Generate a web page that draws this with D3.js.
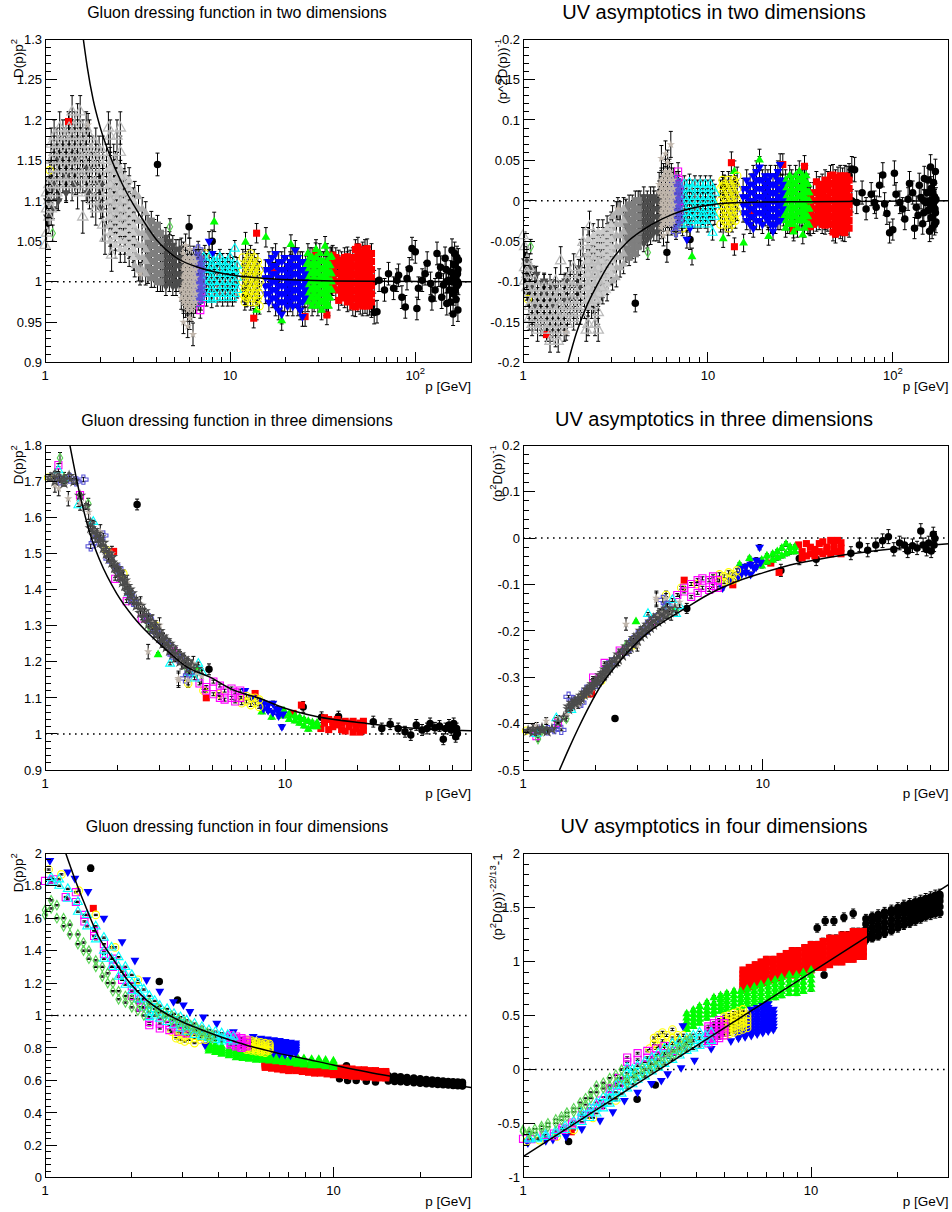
<!DOCTYPE html>
<html>
<head>
<meta charset="utf-8">
<title>Gluon dressing function and UV asymptotics</title>
<script src="https://cdn.jsdelivr.net/npm/d3@7/dist/d3.min.js"></script>
<style>
  html, body { margin: 0; padding: 0; background: #fff; }
  svg { display: block; }
  text { font-family: "Liberation Sans", Arial, Helvetica, sans-serif; fill: #000; }
</style>
</head>
<body>
<svg id="fig" width="952" height="1212" viewBox="0 0 952 1212"></svg>
<script>
// ================= Lattice data: D(p) p^2 against p [GeV] =================
// Each row is [p, value, value, ...]; several lattice points share one momentum.

// ---------- two dimensions ----------
const d2Black = [[4.05,1.145],[6.0,1.068],[8.0,1.05],[12.2,0.983],
  [58,0.97],[60,0.962,1.0],[62.1,0.963],[63.8,1.002],[68.2,0.99],[71.7,1.01],[76.4,0.992],[79.6,1.002],
  [81.3,1.008],[84.7,0.981],[88.3,0.969],[90.2,1.004],[92.9,1.016],[96,1.041],[100,1.037],[102,0.967],
  [104,0.992],[109,1.002],[113,1.01],[116,1.023],[121,0.998],[123,0.979],[128,0.99],[131,1.035],
  [134,1.008],[137,1.018],[139,0.981],[142,0.996],[145,1.029],[147,1.0,1.015],[148,0.973],[151,1.002],
  [153,0.99],[155,1.012,0.975],[158,1.039,1.0],[160,1.005,0.96],[161,1.021,0.985],[163,1.035],
  [164,0.99,1.01],[166,1.006,0.978],[168,1.03,0.995],[169,1.0,1.01],[170,0.965,1.015],[171,0.998,1.027]];
const d2Red = [[1.34,1.198],[13.4,0.955],[13.9,1.06],[17.1,1.012],[25.4,0.957],[29.0,1.036],[33.3,0.959],
  [35.8,0.995,1.005,1.015,1.025,1.033],[37.2,0.99,1.0,1.01,1.02,1.03],[38.6,0.977,0.99,1.0,1.01,1.02,1.027],
  [40.0,0.983,0.995,1.005,1.015,1.025],[41.5,0.98,0.99,1.0,1.01,1.02,1.03],
  [43.0,0.975,0.985,0.995,1.005,1.015,1.025,1.031],[44.5,0.977,0.987,0.997,1.007,1.017,1.027],
  [46.0,0.97,0.98,0.99,1.0,1.01,1.02,1.03],[47.5,0.969,0.979,0.989,0.999,1.009,1.019,1.029,1.04],
  [49.0,0.975,0.985,0.995,1.005,1.015,1.025,1.035,1.043],[50.5,0.972,0.982,0.992,1.002,1.012,1.022,1.032],
  [52.0,0.97,0.98,0.99,1.0,1.01,1.02,1.03,1.037],[53.5,0.973,0.983,0.993,1.003,1.013,1.023,1.033,1.04],
  [55.0,0.97,0.98,0.99,1.0,1.01,1.02,1.03,1.041],[56.5,0.971,0.981,0.991,1.001,1.011,1.021,1.031],
  [58.0,0.975,0.985,0.995,1.005,1.015,1.025,1.035]];
const d2Green = [[8.2,1.074],[12.1,1.049],[13.9,0.965],[15.6,1.055],[19.0,0.952],[21.3,1.046],
  [25.6,0.99,1.0,1.01,1.02],[26.3,0.975,0.985,0.995,1.005,1.015,1.025,1.035],[27.0,0.98,0.99,1.0,1.01,1.02,1.03],
  [27.7,0.97,0.98,0.99,1.0,1.01,1.02,1.03],[28.4,0.975,0.985,0.995,1.005,1.015,1.025],
  [29.1,0.98,0.99,1.0,1.01,1.02,1.03,1.04],[29.8,0.97,0.98,0.99,1.0,1.01,1.02],
  [30.5,0.975,0.985,0.995,1.005,1.015,1.025,1.035],[31.2,0.965,0.975,0.985,0.995,1.005,1.015,1.025],
  [31.9,0.975,0.985,0.995,1.005,1.015,1.025],[32.6,0.97,0.98,0.99,1.0,1.01,1.02,1.044],
  [33.3,0.975,0.985,0.995,1.005,1.015,1.025,1.035],[34.0,0.97,0.98,0.99,1.0,1.01,1.02],
  [34.7,0.98,0.99,1.0,1.01,1.02,1.03],[35.3,0.99,1.0,1.01,1.031]];
const d2Blue = [[7.7,1.05],[8.0,1.035],
  [15.5,0.985,0.995,1.005,1.015],[16.2,0.975,0.985,0.995,1.005,1.015,1.025],[16.9,0.98,0.99,1.0,1.01,1.02,1.03],
  [17.6,0.97,0.98,0.99,1.0,1.01,1.02,1.035],[18.3,0.965,0.975,0.985,0.995,1.005,1.015,1.025],
  [19.0,0.96,0.975,0.985,0.995,1.005,1.015,1.025],[19.7,0.975,0.985,0.995,1.005,1.015,1.03],
  [20.4,0.97,0.98,0.99,1.0,1.01,1.02],[21.1,0.975,0.985,0.995,1.005,1.015,1.025],
  [21.8,0.97,0.98,0.99,1.0,1.01,1.02,1.03],[22.5,0.98,0.99,1.0,1.01,1.02,1.03,1.039],
  [23.2,0.97,0.98,0.99,1.0,1.01,1.02,1.03],[23.9,0.965,0.975,0.985,0.995,1.005,1.015,1.025],
  [24.6,0.957,0.975,0.985,0.995,1.005,1.015,1.025],[25.3,0.98,0.99,1.0,1.01]];
const d2Yellow = [[1.06,1.138],[7.3,1.035],[11.7,0.985,1.0,1.015,1.03],[12.0,0.975,0.982,0.99,1.005,1.02],
  [12.3,0.98,0.995,1.01,1.025],[12.6,0.985,1.0,1.015,1.03],[12.9,0.975,0.99,1.005,1.02,1.035],
  [13.2,0.98,0.995,1.01,1.025],[13.5,0.985,1.0,1.015,1.03],[13.8,0.975,0.99,1.005,1.02],
  [14.1,0.98,0.995,1.01,1.025],[14.4,0.97,0.985,1.0,1.015]];
const d2Magenta = [[6.8,0.99],[6.85,1.01],[6.9,0.98,0.965],[6.95,0.975],[7.0,1.0,0.985]];
const d2Cyan = [[7.2,0.985,1.0,1.015,1.03],[7.45,0.98,0.995,1.01,1.025],[7.7,0.985,1.0,1.015,1.03],
  [7.95,0.978,0.99,1.005,1.02],[8.2,0.985,1.0,1.015,1.025],[8.5,0.98,0.995,1.01,1.025],[8.8,0.985,1.0,1.015,1.03],
  [9.1,0.98,0.995,1.01,1.025],[9.4,0.985,1.0,1.015,1.02],[9.7,0.98,0.995,1.01,1.025],[10.0,0.985,1.0,1.015,1.03],
  [10.3,0.98,0.995,1.01,1.02],[10.6,0.985,1.0,1.015,1.041],[10.9,0.99,1.005,1.02]];
const d2Diamond = [[1.1,1.06],[4.73,1.068]];
const d2Cross = [[6.6,0.98,0.99,1.0,1.01,1.02,1.03],[6.72,0.975,0.985,0.995,1.005,1.015,1.025,1.04],
  [6.85,0.98,0.99,1.0,1.01,1.02,1.03],[6.97,0.985,0.995,1.005,1.015,1.025]];
const d2Tan = [[1.71,1.194],[3.26,1.01],
  [5.45,0.98,0.99,1.0,1.01,1.02,1.03,1.04],[5.6,0.95,0.975,0.985,0.995,1.005,1.015,1.025,1.035],
  [5.75,0.97,0.98,0.99,1.0,1.01,1.02,1.03,1.045],[5.9,0.945,0.965,0.975,0.985,0.995,1.005,1.015,1.025],
  [6.05,0.955,0.97,0.98,0.99,1.0,1.01,1.02,1.03,1.04],[6.2,0.965,0.975,0.985,0.995,1.005,1.015,1.025],
  [6.3,0.935],[6.35,0.97,0.98,0.99,1.0,1.01,1.02,1.03],[6.5,0.975,0.985,0.995,1.005,1.015,1.025]];
const d2Dark = [[1.03,1.1,1.08],[1.1,1.12,1.09],[1.18,1.15,1.1],[1.3,1.13,1.11],[1.45,1.15,1.12],[1.7,1.14,1.11],
  [2.0,1.12,1.09],[2.3,1.1,1.07],[2.7,1.07,1.05],[3.0,1.05,1.03],
  [4.3,1.0,1.01,1.02,1.03,1.04,1.05],[4.5,0.995,1.005,1.015,1.025,1.035,1.045,1.055],
  [4.7,1.0,1.01,1.02,1.03,1.04,1.05],[4.9,0.995,1.005,1.015,1.025,1.035,1.045],
  [5.1,0.995,1.0,1.01,1.02,1.03,1.04],[5.3,1.0,1.01,1.02,1.03,1.04]];
const d2Gray = [[3.6,1.01,1.02,1.03,1.04,1.05,1.06,1.07],[3.75,1.005,1.015,1.025,1.035,1.045,1.055,1.065,1.075],
  [3.9,1.005,1.015,1.025,1.035,1.045,1.055,1.065],[4.05,1.0,1.01,1.02,1.03,1.04,1.05,1.06,1.07],
  [4.2,1.0,1.01,1.02,1.03,1.04,1.05,1.06]];
const d2Silver = [[3.05,1.02,1.035,1.05,1.065,1.08,1.095,1.11],[3.2,1.015,1.03,1.045,1.06,1.075,1.09,1.105],
  [3.35,1.015,1.03,1.045,1.06,1.075,1.09],[3.5,1.01,1.025,1.04,1.055,1.07,1.085]];
const d2Pale = [[2.25,1.05,1.06,1.07,1.08,1.09,1.1,1.11,1.12,1.13,1.14,1.15],
  [2.4,1.045,1.055,1.065,1.075,1.085,1.095,1.105,1.115,1.125,1.135,1.145],
  [2.55,1.04,1.05,1.06,1.07,1.08,1.09,1.1,1.11,1.12,1.13,1.14],
  [2.7,1.04,1.05,1.06,1.07,1.08,1.09,1.1,1.11,1.12,1.13],
  [2.85,1.035,1.045,1.055,1.065,1.075,1.085,1.095,1.105,1.115,1.125],
  [3.0,1.03,1.04,1.05,1.06,1.07,1.08,1.09,1.1]];
const d2Light = [[1.0,1.045],[1.02,1.06,1.09,1.11],[1.05,1.08,1.12,1.1],[1.08,1.13,1.15,1.09,1.17],
  [1.12,1.12,1.16,1.18,1.14],[1.16,1.15,1.11,1.17,1.13],[1.2,1.19,1.14,1.16,1.12],[1.25,1.18,1.15,1.13,1.17],
  [1.3,1.16,1.14,1.12,1.18],[1.35,1.15,1.17,1.13,1.19],[1.4,1.21,1.16,1.14,1.18,1.12],[1.45,1.17,1.15,1.19,1.13],
  [1.5,1.2,1.16,1.14,1.18,1.11],[1.55,1.21,1.17,1.15,1.13],[1.6,1.18,1.15,1.08,1.13,1.16],
  [1.67,1.17,1.14,1.12,1.16,1.19],[1.74,1.15,1.18,1.13,1.11,1.16],[1.8,1.16,1.12,1.14,1.1],
  [1.88,1.17,1.14,1.12,1.09,1.15],[1.96,1.15,1.13,1.11,1.16],[2.05,1.14,1.12,1.1,1.07,1.16],[2.11,1.054],
  [2.15,1.13,1.11,1.09,1.15],[2.2,1.19],[2.25,1.12,1.14,1.1,1.08,1.18],[2.29,1.033],[2.35,1.13,1.11,1.09,1.15],
  [2.45,1.12,1.1,1.08,1.14,1.18],[2.55,1.11,1.09,1.13,1.16,1.19],[2.65,1.1,1.12,1.08]];
// half-widths of the error bars, one per series in drawing order
const err2D = [0.014, 0.012, 0.012, 0.012, 0.01, 0.01, 0.01, 0.01, 0.01, 0.014, 0.012, 0.012, 0.014, 0.016, 0.02];

// ---------- three dimensions ----------
const d3Black = [[2.42,1.636],[4.82,1.179],[11.9,1.075],[14.2,1.046],[16.7,1.048],[23.3,1.034],[25.3,1.015],
  [27.4,1.027],[29.6,1.015],[31.6,1.006],[33.4,0.997],[35.2,1.025],[37.2,1.011],[39,1.015],[40.2,1.029],
  [42.1,1.017],[44,1.022],[45.6,0.985],[46.6,1.015],[48.2,1.025],[49.2,1.011],[50.4,1.029],[51.4,0.992],
  [51.8,1.015],[52.2,1.001]];
const d3Red = [[1.93,1.506],[4.7,1.1],[7.5,1.112],[10.8,1.057],[11.7,1.08],[14.1,1.015],[14.6,1.045,1.03],
  [15.2,1.04,1.012],[15.8,1.035,1.02],[16.5,1.04,1.025],[17.2,1.03,1.012],[17.8,1.035,1.008],[18.5,1.03,1.02],
  [19.2,1.035,1.005],[19.8,1.025,1.015],[20.5,1.03,1.005],[21.2,1.035,1.01,1.022]];
const d3Green = [[1.21,1.703],[2.96,1.22],[4.3,1.18],[8.0,1.061],[8.8,1.046],[9.9,1.064,1.05],[10.4,1.055,1.04],
  [11,1.05,1.036],[11.5,1.045,1.03],[12,1.04,1.022],[12.5,1.035,1.013],[13,1.031,1.02],[13.6,1.03,1.02]];
const d3Blue = [[6.8,1.12],[7.3,1.1],[7.9,1.09],[8.12,1.085,1.07],[8.5,1.08,1.065],[8.9,1.085,1.06],[9.2,1.07],
  [9.4,1.066,1.05],[9.7,1.02],[9.8,1.055]];
const d3Yellow = [[1.03,1.71],[1.8,1.51],[2.12,1.445],[2.9,1.3],[3.95,1.14],[4.57,1.12],[5.3,1.11],
  [6.6,1.1,1.085],[6.9,1.105,1.09],[7.2,1.1,1.08],[7.5,1.1,1.085],[7.8,1.095,1.075]];
const d3Magenta = [[1.137,1.745],[1.399,1.662],[1.96,1.43],[2.19,1.368],[2.53,1.32],[3.42,1.228],[4.4,1.14],
  [4.7,1.12,1.13],[5.03,1.145,1.11],[5.35,1.134,1.1],[5.6,1.12,1.095],[5.98,1.126,1.1],[6.2,1.115,1.09],
  [6.5,1.12,1.1]];
const d3Cyan = [[1.137,1.731],[1.377,1.634],[1.59,1.588],[2.25,1.39],[3.32,1.195],[4.0,1.17],[4.2,1.154],
  [4.35,1.195],[4.5,1.172]];
const d3Diamond = [[1.155,1.765],[1.2,1.71],[1.515,1.638],[2.7,1.3],[3.9,1.18],[4.08,1.19]];
const d3Cross = [[1.155,1.703],[1.27,1.708],[1.35,1.7],[1.445,1.705],[1.55,1.52],[1.62,1.537],[1.75,1.55],
  [1.84,1.486],[2.02,1.458],[2.26,1.389],[2.33,1.366],[2.7,1.32],[2.88,1.283],[3.1,1.255],[3.26,1.246],
  [3.4,1.22],[3.6,1.209],[3.83,1.154],[4.0,1.17]];
const d3Tan = [[1.1,1.69],[1.14,1.68],[1.25,1.652],[1.4,1.64],[1.52,1.615],[1.7,1.56],[1.9,1.5],[2.2,1.42],
  [2.5,1.36],[2.69,1.228],[2.8,1.31],[3.0,1.302],[3.1,1.26],[3.3,1.24],[3.5,1.22],[3.6,1.149,1.154],[3.7,1.2],
  [3.9,1.19],[3.95,1.149],[4.1,1.18],[4.15,1.195],[4.3,1.17],[4.5,1.16]];
const d3Dark = [[1.05,1.71],[1.1,1.72,1.7],[1.15,1.71],[1.2,1.705,1.695],[1.26,1.715],[1.32,1.7],[1.4,1.66],
  [1.48,1.63],[1.55,1.585,1.57],[1.6,1.565,1.55],[1.65,1.555,1.54],[1.7,1.545,1.53],[1.75,1.53,1.515],
  [1.8,1.51,1.5],[1.85,1.5,1.485],[1.9,1.49,1.475],[1.95,1.47,1.46],[2.0,1.46,1.445],[2.05,1.45,1.435],
  [2.1,1.435,1.42],[2.15,1.425,1.41],[2.2,1.41,1.395],[2.25,1.4,1.385],[2.3,1.39,1.37],[2.4,1.37,1.355],
  [2.5,1.355,1.335],[2.6,1.34,1.32],[2.7,1.325,1.305],[2.8,1.31,1.29],[2.9,1.3,1.275],[3.0,1.285,1.265],
  [3.1,1.27,1.25],[3.2,1.26,1.24],[3.3,1.25,1.23],[3.4,1.24,1.22],[3.5,1.23,1.21],[3.65,1.22,1.2],
  [3.8,1.21,1.19],[3.95,1.2,1.18],[4.1,1.19],[4.3,1.18]];
const err3D = [0.015, 0.005, 0.005, 0.006, 0.004, 0.004, 0.004, 0.015, 0.006, 0.02, 0.008];

// ---------- four dimensions ----------
const d4BlackLow = [[1.44,1.908]];
const d4Black = [[2.49,1.209],[2.88,1.096],[10.5,0.61],[11.1,0.69],[11.2,0.6],[12,0.6],[13,0.595],[14,0.59],
  [15.5,0.628,0.62,0.612,0.604,0.597],[16.3,0.625,0.617,0.609,0.601,0.594],[17.1,0.622,0.614,0.606,0.598,0.591],
  [18,0.618,0.61,0.602,0.594,0.588],[19,0.614,0.606,0.598,0.59,0.585],[20,0.61,0.602,0.594,0.587,0.582],
  [21,0.606,0.598,0.59,0.584,0.579],[22,0.603,0.595,0.588,0.581,0.577],[23,0.6,0.592,0.585,0.579,0.575],
  [24,0.597,0.589,0.582,0.576,0.573],[25,0.594,0.586,0.579,0.574,0.571],[26,0.592,0.584,0.577,0.572,0.569],
  [27,0.59,0.582,0.575,0.57,0.567],[28,0.589,0.581,0.574,0.569,0.566]];
const d4Red = [[1.47,1.66],
  [5.8,0.72,0.712,0.704,0.696,0.688,0.68],[6.1,0.715,0.707,0.699,0.691,0.683,0.675],
  [6.4,0.71,0.702,0.694,0.686,0.678,0.67],[6.7,0.705,0.697,0.689,0.681,0.673,0.665],
  [7.0,0.705,0.697,0.689,0.681,0.673,0.665,0.66],[7.4,0.7,0.692,0.684,0.676,0.668,0.66],
  [7.8,0.695,0.687,0.679,0.671,0.663,0.655],[8.2,0.69,0.682,0.674,0.666,0.658,0.65],
  [8.6,0.69,0.682,0.674,0.666,0.658,0.65,0.645],[9.0,0.685,0.677,0.669,0.661,0.653,0.645],
  [9.5,0.68,0.672,0.664,0.656,0.648,0.64],[10,0.68,0.672,0.664,0.656,0.648,0.64,0.635],
  [10.5,0.675,0.667,0.659,0.651,0.643,0.635],[11,0.675,0.667,0.659,0.651,0.643,0.635,0.63],
  [11.6,0.67,0.662,0.654,0.646,0.638,0.63,0.625],[12.2,0.665,0.657,0.649,0.641,0.633,0.625],
  [12.8,0.665,0.657,0.649,0.641,0.633,0.625,0.62],[13.4,0.66,0.652,0.644,0.636,0.628,0.62],
  [14,0.66,0.652,0.644,0.636,0.628,0.62,0.615],[14.6,0.655,0.647,0.639,0.631,0.623,0.615],
  [15.2,0.655,0.647,0.639,0.631,0.623,0.615]];
const d4Green = [[3.7,0.83,0.818,0.806,0.794,0.782],[3.9,0.82,0.808,0.796,0.784,0.772],
  [4.1,0.81,0.798,0.786,0.774,0.762],[4.35,0.795,0.785,0.775,0.765,0.752],[4.6,0.785,0.775,0.765,0.755,0.74],
  [4.85,0.775,0.765,0.755,0.745,0.735],[5.1,0.77,0.76,0.75,0.74,0.73],[5.4,0.765,0.755,0.745,0.735,0.725],
  [5.7,0.765,0.755,0.745,0.735,0.725],[6.0,0.76,0.75,0.74,0.73,0.72],[6.35,0.755,0.745,0.735,0.725,0.715],
  [6.7,0.75,0.74,0.73,0.72,0.71],[7.1,0.745,0.735,0.725,0.715,0.705],[7.5,0.74,0.73,0.72,0.71,0.7],
  [7.9,0.735,0.725,0.715,0.705,0.695],[8.4,0.73,0.72,0.71,0.7,0.69],[8.9,0.73,0.72,0.71,0.7,0.69],
  [9.4,0.725,0.715,0.705,0.695,0.685],[10,0.72,0.71,0.7,0.69,0.68]];
const d4Blue = [[1.04,1.955],[1.2,1.885],[1.27,1.846],[1.41,1.764],[1.6,1.6],[1.85,1.455],[2.05,1.34],[2.25,1.22],
  [2.5,1.15],[2.79,1.085],[3.02,1.065],[3.18,1.024],[3.54,0.99],[3.59,0.818],[3.94,0.952],[4.5,0.9],[5.27,0.87],
  [5.6,0.86,0.85,0.84,0.83,0.82],[5.9,0.855,0.845,0.835,0.825,0.815,0.805,0.795],
  [6.2,0.85,0.84,0.83,0.82,0.81,0.8,0.79,0.78,0.77],[6.5,0.845,0.835,0.825,0.815,0.805,0.795,0.785,0.775,0.765],
  [6.8,0.84,0.83,0.82,0.81,0.8,0.79,0.78,0.77,0.76],[7.1,0.835,0.825,0.815,0.805,0.795,0.785,0.775,0.765,0.755],
  [7.4,0.83,0.82,0.81,0.8,0.79,0.78,0.77]];
const d4Yellow = [[1.03,1.9],[1.14,1.87],[1.31,1.77],[1.5,1.62],[1.75,1.42],[2.1,1.22],[2.75,0.9],[2.85,0.88,0.86],
  [2.95,0.89,0.85],[3.05,0.87,0.84],[3.15,0.88,0.85],[3.3,0.86,0.83],[3.45,0.87,0.85],[3.6,0.85],
  [5.0,0.85,0.84,0.83,0.82,0.81,0.8,0.79],[5.2,0.845,0.835,0.825,0.815,0.805,0.795,0.785],
  [5.4,0.84,0.83,0.82,0.81,0.8,0.79,0.78],[5.6,0.835,0.825,0.815,0.805,0.795,0.785,0.775],
  [5.8,0.83,0.82,0.81,0.8,0.79,0.78,0.77],[6.0,0.825,0.815,0.805,0.795,0.785]];
const d4Magenta = [[1.0,1.83],[1.07,1.84],[1.18,1.73],[1.28,1.76,1.7],[1.37,1.62,1.58],[1.48,1.52,1.49],
  [1.6,1.44,1.38],[1.72,1.35,1.3],[1.85,1.27,1.22],[2.0,1.18,1.12],[2.15,1.1,1.05],[2.3,0.96,0.94],[2.5,0.95,0.92],
  [2.7,0.94,0.91],[2.9,0.93,0.9],[3.1,0.92,0.89],[3.35,0.91],[4.4,0.88,0.87,0.86,0.85,0.84,0.83,0.82],
  [4.6,0.87,0.86,0.85,0.84,0.83,0.82,0.81],[4.8,0.86,0.85,0.84,0.83,0.82,0.81,0.8],[5.0,0.85,0.84,0.83,0.82,0.81]];
const d4Cyan = [[1.05,1.85,1.82],[1.12,1.84,1.8],[1.2,1.78,1.72],[1.3,1.7,1.64],[1.4,1.62,1.55],[1.5,1.55,1.47],
  [1.6,1.48,1.4,1.35],[1.7,1.42,1.35,1.3],[1.8,1.36,1.3,1.24],[1.9,1.3,1.25,1.19],[2.0,1.25,1.2,1.15],
  [2.1,1.2,1.15,1.1],[2.2,1.16,1.1,1.05],[2.3,1.12,1.07,1.02,0.99],[2.4,1.09,1.04,1.0],[2.5,1.06,1.02,0.98],
  [2.65,1.04,1.0,0.96],[2.8,1.01,0.97,0.94],[2.95,0.99,0.95,0.92],[3.1,0.97,0.93,0.9],[3.3,0.95,0.91,0.88],
  [3.5,0.93,0.9,0.87],[3.7,0.91,0.88,0.86],[3.9,0.9,0.87,0.85],[4.1,0.89,0.86,0.84],[4.3,0.88,0.85],[4.5,0.87,0.84]];
const d4Diamond = [[1.0,1.65,1.62],[1.05,1.71,1.66],[1.1,1.68,1.6],[1.16,1.6,1.55],[1.22,1.56,1.5],[1.3,1.5,1.44],
  [1.36,1.45,1.4],[1.42,1.4,1.35],[1.5,1.34,1.3],[1.58,1.3,1.24],[1.65,1.26,1.2],[1.72,1.2,1.15],[1.8,1.15,1.1],
  [1.9,1.12,1.08],[2.0,1.1,1.05],[2.1,1.08,1.03],[2.2,1.05,1.0],[2.3,1.08,1.05],[2.45,1.05,1.02],[2.6,1.02,0.99],
  [2.75,1.0,0.97],[2.9,0.98,0.95],[3.05,0.96,0.935],[3.2,0.94,0.915],[3.35,0.925,0.9],[3.5,0.91,0.89],
  [3.65,0.895,0.875],[3.8,0.88,0.86]];
const err4D = [0.02, 0.006, 0.005, 0.005, 0.005, 0.004, 0.004, 0.004, 0.004];

// ---------- fitted curves, [p, value] ----------
const fit2D = [[1.61,1.3],[1.69,1.266],[1.82,1.225],[1.98,1.192],[2.25,1.155],[2.65,1.118],[3.26,1.082],[4.0,1.052],
  [5.1,1.03],[6.9,1.017],[10.4,1.008],[15.8,1.004],[36,1.001],[200,1.0]];
const uv2D = [[1.75,-0.2],[1.94,-0.164],[2.2,-0.131],[2.49,-0.106],[2.94,-0.077],[3.62,-0.052],[4.45,-0.036],
  [5.7,-0.022],[7.34,-0.012],[10.2,-0.005],[15.5,-0.002],[35,-0.001],[200,0]];
const fit3D = [[1.27,1.8],[1.39,1.67],[1.54,1.555],[1.69,1.482],[1.99,1.389],[2.33,1.325],[2.74,1.274],[3.21,1.232],
  [3.89,1.186],[4.84,1.158],[6.09,1.122],[7.86,1.098],[10,1.071],[13.5,1.048],[21.9,1.029],[35.4,1.015],[59.6,1.009]];
const uv3D = [[1.42,-0.5],[1.55,-0.455],[1.7,-0.41],[1.9,-0.36],[2.1,-0.32],[2.4,-0.28],[2.8,-0.24],[3.3,-0.205],
  [4.0,-0.175],[4.8,-0.15],[6,-0.12],[7.5,-0.097],[10,-0.075],[13,-0.058],[17,-0.046],[22,-0.036],[30,-0.027],
  [40,-0.02],[59.6,-0.012]];
const fit4D = [[1.18,2.0],[1.27,1.84],[1.37,1.69],[1.53,1.49],[1.72,1.35],[1.97,1.2],[2.25,1.095],[2.58,1.02],
  [3.0,0.96],[3.4,0.92],[3.9,0.88],[4.45,0.845],[5.1,0.812],[5.87,0.785],[6.5,0.765],[7.66,0.74],[10,0.695],
  [15.3,0.63],[22,0.59],[30,0.556]];
const uv4D = [[1,-0.805],[30,1.71]];

// ---------- axis ticks ----------
const yTicks1 = [0.9,0.95,1,1.05,1.1,1.15,1.2,1.25,1.3];
const yTicks2 = [-0.2,-0.15,-0.1,-0.05,0,0.05,0.1,0.15,0.2];
const yTicks3 = [0.9,1,1.1,1.2,1.3,1.4,1.5,1.6,1.7,1.8];
const yTicks4 = [-0.5,-0.4,-0.3,-0.2,-0.1,0,0.1,0.2];
const yTicks5 = [0,0.2,0.4,0.6,0.8,1,1.2,1.4,1.6,1.8,2];
const yTicks6 = [-1,-0.5,0,0.5,1,1.5,2];
const xMajor = [1, 10, 100];

// ================= drawing =================
const svg = d3.select("#fig");

const SHAPE = {
  circle: d3.symbolCircle, square: d3.symbolSquare, triUp: d3.symbolTriangle, triDown: d3.symbolTriangle,
  diamond: d3.symbolDiamond, cross: d3.symbolCross, star: d3.symbolStar
};
const SIZE = {circle: 44, square: 50, triUp: 34, triDown: 34, diamond: 26, cross: 48, star: 22};

// marker styles (ROOT palette colours)
const ST = {
  black:   {shape: "circle",  color: "#000000"},
  red:     {shape: "square",  color: "#ff0000"},
  green:   {shape: "triUp",   color: "#00ff00"},
  blue:    {shape: "triDown", color: "#0000ff"},
  yellow:  {shape: "circle",  color: "#ffff00", open: true},
  magenta: {shape: "square",  color: "#ff00ff", open: true},
  cyan:    {shape: "triUp",   color: "#00ffff", open: true},
  diamond: {shape: "diamond", color: "#59d454", open: true},
  cross:   {shape: "cross",   color: "#5954d8", open: true},
  tan:     {shape: "star",    color: "#c0b6ac"},
  darkStar:{shape: "star",    color: "#4c4c4c", open: true, sw: 1.3},
  dark:    {shape: "triDown", color: "#4c4c4c"},
  gray:    {shape: "square",  color: "#7f7f7f"},
  silver:  {shape: "triUp",   color: "#b0b0b0"},
  pale:    {shape: "triUp",   color: "#cbcbcb"},
  light:   {shape: "triUp",   color: "#bdbdbd", open: true, sw: 1.3, size: 46}
};

const inv = v => 1 / v - 1;                       // (p^2 D(p))^-1 - 1
const inv4 = v => Math.pow(v, -22 / 13) - 1;      // (p^2 D(p))^(-22/13) - 1
const ident = v => v;

const fmt = v => String(+v.toFixed(3));

function expand(rows, err, f) {
  const out = [];
  for (const r of rows) {
    for (let i = 1; i < r.length; i++) {
      const v = r[i], a = f(v - err), b = f(v + err);
      out.push({p: r[0], v: f(v), lo: Math.min(a, b), hi: Math.max(a, b)});
    }
  }
  return out;
}

let clipCount = 0;
function drawPanel(cfg) {
  const [L, R, T, B] = cfg.frame;
  const x = d3.scaleLog().domain([1, cfg.xMax]).range([L, R]);
  const y = d3.scaleLinear().domain(cfg.yDomain).range([B, T]);
  const g = svg.append("g");
  const clipId = "frameClip" + (clipCount++);
  svg.append("defs").append("clipPath").attr("id", clipId)
    .append("rect").attr("x", L).attr("y", T).attr("width", R - L).attr("height", B - T);

  // title
  g.append("text").attr("x", cfg.titleX).attr("y", cfg.titleY).attr("text-anchor", "middle")
    .style("font-size", cfg.titleSize + "px").text(cfg.title);

  // reference line
  g.append("line").attr("x1", L).attr("x2", R).attr("y1", y(cfg.ref)).attr("y2", y(cfg.ref))
    .attr("stroke", "#000").attr("stroke-width", 1.5).attr("stroke-dasharray", "1.6,4.4");

  const [y0, y1] = cfg.yDomain;
  const sets = cfg.series.map(s => ({
    style: s.style,
    pts: expand(s.rows, s.err, cfg.map).filter(d => d.p >= 1 && d.p <= cfg.xMax && d.v >= y0 && d.v <= y1)
  }));

  // error bars of every series, under the markers
  let path = "";
  sets.forEach(s => s.pts.forEach(d => {
    const X = x(d.p).toFixed(1), A = y(d.lo).toFixed(1), Bb = y(d.hi).toFixed(1), X0 = (x(d.p) - 2).toFixed(1);
    path += `M${X},${A}V${Bb}M${X0},${A}h4M${X0},${Bb}h4`;
  }));
  g.append("path").attr("d", path).attr("fill", "none").attr("stroke", "#000")
    .attr("stroke-width", 1).attr("clip-path", `url(#${clipId})`);

  // markers
  sets.forEach(s => {
    const st = s.style;
    const d = d3.symbol(SHAPE[st.shape], st.size || SIZE[st.shape])();
    g.append("g").selectAll("path").data(s.pts).join("path")
      .attr("d", d)
      .attr("transform", p => `translate(${x(p.p).toFixed(1)},${y(p.v).toFixed(1)})` +
                              (st.shape === "triDown" ? " rotate(180)" : ""))
      .attr("fill", st.open ? "none" : st.color)
      .attr("stroke", st.open ? st.color : "none")
      .attr("stroke-width", st.open ? (st.sw || 1.1) : 0);
  });

  // fitted curve
  g.append("path").datum(cfg.curve)
    .attr("d", d3.line().x(d => x(d[0])).y(d => y(d[1])).curve(d3.curveMonotoneX))
    .attr("fill", "none").attr("stroke", "#000").attr("stroke-width", 1.5)
    .attr("clip-path", `url(#${clipId})`);

  // frame
  const ax = g.append("g").attr("shape-rendering", "crispEdges").attr("stroke", "#000").attr("stroke-width", 1);
  ax.append("rect").attr("x", L).attr("y", T).attr("width", R - L).attr("height", B - T).attr("fill", "none");

  // y ticks (inside the frame)
  const step = cfg.yTicks[1] - cfg.yTicks[0];
  const minor = d3.range(0, Math.round((y1 - y0) / (step / 5)) + 1).map(i => y0 + i * step / 5);
  minor.forEach(v => ax.append("line").attr("x1", L).attr("x2", L + 6).attr("y1", y(v)).attr("y2", y(v)));
  cfg.yTicks.forEach(v => {
    ax.append("line").attr("x1", L).attr("x2", L + 12).attr("y1", y(v)).attr("y2", y(v));
    g.append("text").attr("x", L - 3).attr("y", y(v)).attr("dy", "0.36em").attr("text-anchor", "end")
      .style("font-size", "13px").text(fmt(v));
  });

  // x ticks (log axis)
  xMajor.filter(p => p <= cfg.xMax * 1.0001).forEach(p => {
    ax.append("line").attr("x1", x(p)).attr("x2", x(p)).attr("y1", B).attr("y2", B - 11);
    for (let m = 2; m <= 9; m++) {
      const q = p * m;
      if (q <= cfg.xMax * 1.0001)
        ax.append("line").attr("x1", x(q)).attr("x2", x(q)).attr("y1", B).attr("y2", B - 5.5);
    }
    const t = g.append("text").attr("x", x(p)).attr("y", B + 17.5).attr("text-anchor", "middle").style("font-size", "13px");
    if (p === 100) {
      t.append("tspan").text("10");
      t.append("tspan").attr("dy", -6).style("font-size", "9.5px").text("2");
    } else {
      t.text(String(p));
    }
  });

  // axis titles
  g.append("text").attr("x", R).attr("y", B + 28).attr("text-anchor", "end").style("font-size", "13.5px").text("p [GeV]");
  const yt = g.append("text").attr("transform", `translate(${L + cfg.yTitleDx},${T}) rotate(-90)`)
    .attr("text-anchor", "end").style("font-size", "13.5px");
  let raised = false;
  cfg.yTitle.forEach(([txt, sup]) => {
    const ts = yt.append("tspan").text(txt);
    if (sup) {
      ts.style("font-size", "9.5px");
      if (!raised) { ts.attr("dy", -6); raised = true; }
    } else if (raised) {
      ts.attr("dy", 6); raised = false;
    }
  });
}

const mk = (rowsList, errs, styles) => rowsList.map((rows, i) => ({rows, err: errs[i], style: styles[i]}));

const series2D = mk(
  [d2Black, d2Red, d2Green, d2Blue, d2Yellow, d2Magenta, d2Cyan, d2Diamond, d2Cross, d2Tan, d2Dark, d2Gray, d2Silver, d2Pale, d2Light],
  err2D,
  [ST.black, ST.red, ST.green, ST.blue, ST.yellow, ST.magenta, ST.cyan, ST.diamond, ST.cross, ST.tan, ST.dark, ST.gray, ST.silver, ST.pale, ST.light]);
const series3D = mk(
  [d3Black, d3Red, d3Green, d3Blue, d3Yellow, d3Magenta, d3Cyan, d3Diamond, d3Cross, d3Tan, d3Dark],
  err3D,
  [ST.black, ST.red, ST.green, ST.blue, ST.yellow, ST.magenta, ST.cyan, ST.diamond, ST.cross, ST.tan, ST.darkStar]);
const series4D = mk(
  [d4BlackLow, d4Black, d4Red, d4Green, d4Blue, d4Yellow, d4Magenta, d4Cyan, d4Diamond],
  err4D,
  [ST.black, ST.black, ST.red, ST.green, ST.blue, ST.yellow, ST.magenta, ST.cyan, ST.diamond]);

const LEFT = [45, 471], RIGHT = [523, 948.5];
const ROW = [[39, 362.7], [445.3, 770], [853.3, 1177.7]];
const dressTitle = [["D(p)p", false], ["2", true]];

drawPanel({frame: [...LEFT, ...ROW[0]], xMax: 200, yDomain: [0.9, 1.3], yTicks: yTicks1, ref: 1,
  title: "Gluon dressing function in two dimensions", titleX: 237, titleY: 17.5, titleSize: 16,
  yTitle: dressTitle, yTitleDx: -22, series: series2D, map: ident, curve: fit2D});
drawPanel({frame: [...RIGHT, ...ROW[0]], xMax: 200, yDomain: [-0.2, 0.2], yTicks: yTicks2, ref: 0,
  title: "UV asymptotics in two dimensions", titleX: 714, titleY: 18.5, titleSize: 20,
  yTitle: [["(p^2D(p))", false], ["-1", true]], yTitleDx: -16, series: series2D, map: inv, curve: uv2D});

drawPanel({frame: [...LEFT, ...ROW[1]], xMax: 59.5, yDomain: [0.9, 1.8], yTicks: yTicks3, ref: 1,
  title: "Gluon dressing function in three dimensions", titleX: 237, titleY: 425.5, titleSize: 16,
  yTitle: dressTitle, yTitleDx: -22, series: series3D, map: ident, curve: fit3D});
drawPanel({frame: [...RIGHT, ...ROW[1]], xMax: 59.5, yDomain: [-0.5, 0.2], yTicks: yTicks4, ref: 0,
  title: "UV asymptotics in three dimensions", titleX: 714, titleY: 426, titleSize: 20,
  yTitle: [["(p", false], ["2", true], ["D(p))", false], ["-1", true]], yTitleDx: -21, series: series3D, map: inv, curve: uv3D});

drawPanel({frame: [...LEFT, ...ROW[2]], xMax: 30, yDomain: [0, 2], yTicks: yTicks5, ref: 1,
  title: "Gluon dressing function in four dimensions", titleX: 237, titleY: 831.5, titleSize: 16,
  yTitle: dressTitle, yTitleDx: -22, series: series4D, map: ident, curve: fit4D});
drawPanel({frame: [...RIGHT, ...ROW[2]], xMax: 30, yDomain: [-1, 2], yTicks: yTicks6, ref: 0,
  title: "UV asymptotics in four dimensions", titleX: 714, titleY: 833, titleSize: 20,
  yTitle: [["(p", false], ["2", true], ["D(p))", false], ["-22/13", true], ["-1", false]], yTitleDx: -21,
  series: series4D, map: inv4, curve: uv4D});
</script>
</body>
</html>
